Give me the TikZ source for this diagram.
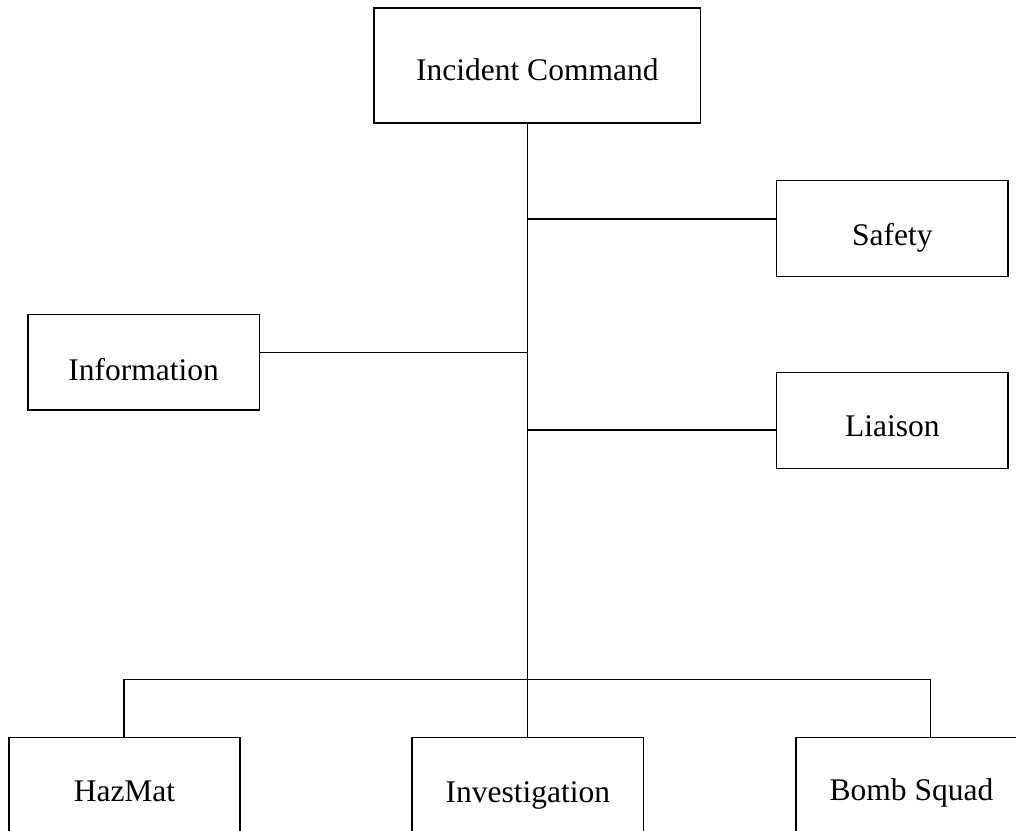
\documentclass[tikz,border=0pt]{standalone}
\usepackage{fontspec}
\setmainfont{Liberation Serif}
\begin{document}
\begin{tikzpicture}[x=1pt,y=-1pt,
  box/.style={draw=black,line width=1.5pt,rectangle,inner sep=0pt,
              minimum width=231.3pt,minimum height=96pt},
  lab/.style={anchor=base,inner sep=0pt,font=\fontsize{31.5}{36}\selectfont},
  wire/.style={line width=1.5pt}]
\useasboundingbox (0,0) rectangle (1016,830);

% boxes
\node[box,minimum width=326.7pt,minimum height=115pt] (ic) at (537.3,65.5) {};
\node[box] (safety) at (892.3,228.7) {};
\node[box,minimum height=95.3pt] (info) at (143.7,362.3) {};
\node[box] (liaison) at (892.3,420.7) {};
\node[box] (hazmat) at (124.5,785.3) {};
\node[box] (inv) at (527.8,785.3) {};
\node[box] (bomb) at (911.5,785.3) {};

% captions
\node[lab] (ic-t) at (537.3,80) {Incident Command};
\node[lab] (safety-t) at (892.3,245) {Safety};
\node[lab] (info-t) at (143.7,380) {Information};
\node[lab] (liaison-t) at (892.3,436) {Liaison};
\node[lab] (hazmat-t) at (124.5,801.7) {HazMat};
\node[lab] (inv-t) at (527.8,802.7) {Investigation};
\node[lab] (bomb-t) at (911.5,800.7) {Bomb Squad};

% junction points of the tree
\coordinate (j) at (527.3,679.3);
\coordinate (safetyIn) at (700,219);
\coordinate (infoIn) at (300,352.7);
\coordinate (liaisonIn) at (700,430);
\coordinate (hazIn) at (124,700);
\coordinate (bombIn) at (930.7,700);

% connectors
\draw[wire] (j |- ic.south) -- (j);
\draw[wire] (j |- safetyIn) -- (safety.west |- safetyIn);
\draw[wire] (info.east |- infoIn) -- (j |- infoIn);
\draw[wire] (j |- liaisonIn) -- (liaison.west |- liaisonIn);
\draw[wire] (hazIn |- hazmat.north) -- (hazIn |- j) -- (bombIn |- j) -- (bombIn |- bomb.north);
\draw[wire] (j) -- (j |- inv.north);
\end{tikzpicture}
\end{document}
